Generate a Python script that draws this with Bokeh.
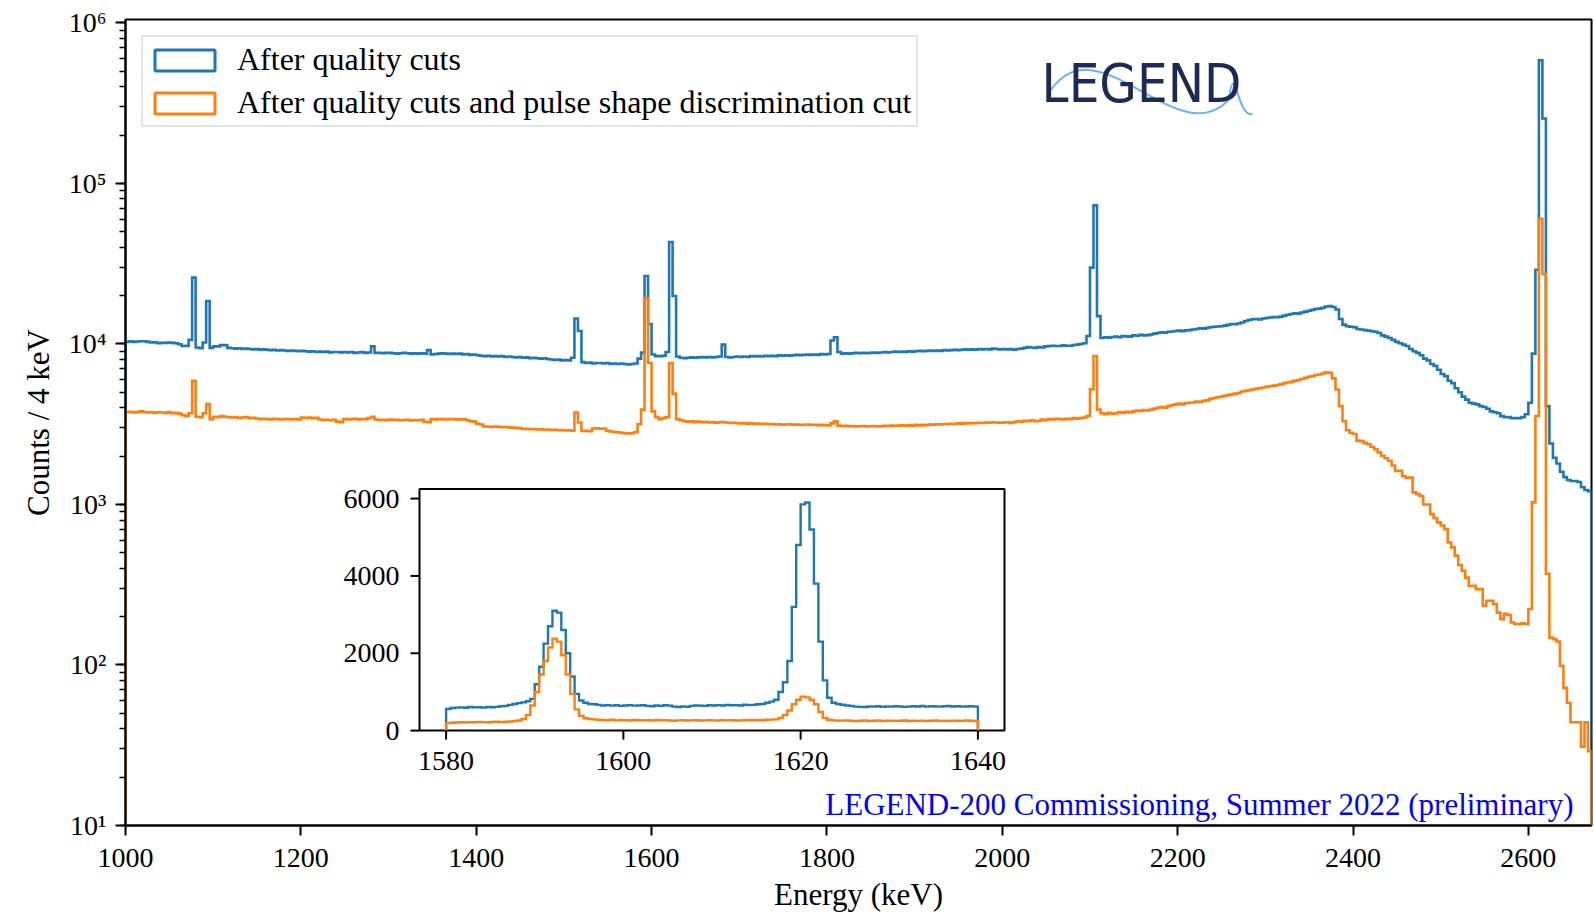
import numpy as np
from bokeh.plotting import figure
from bokeh.models import (Range1d, LinearScale, FixedTicker, LogTicker,
                          CustomJSTickFormatter, Label, Legend, LegendItem)
from bokeh.core.properties import value
from bokeh.embed import file_html
from bokeh.resources import INLINE

# ---------------- data ----------------
energy_start_kev = 1000
bin_width_kev = 4

# counts per 4 keV bin, bins starting at 1000, 1004, ... 2668
counts_quality_cuts = [
    10300, 10400, 10300, 10350, 10400, 10400, 10300, 10200, 10250, 10100,   # 1000
    10150, 10150, 10200, 10150, 10100, 9950, 9700, 9720, 10600, 25900,      # 1040
    9500, 9400, 10200, 18500, 9450, 9650, 9650, 9830, 9830, 9450,           # 1080
    9400, 9350, 9400, 9300, 9350, 9300, 9250, 9300, 9200, 9250,             # 1120
    9200, 9150, 9200, 9100, 9150, 9100, 9050, 9100, 9050, 9000,             # 1160
    9050, 9000, 8950, 9000, 8900, 8950, 8900, 8950, 8850, 8900,             # 1200
    8900, 8850, 8900, 8850, 8900, 8800, 8850, 8900, 8800, 8850,             # 1240
    9650, 8800, 8800, 8750, 8800, 8800, 8750, 8700, 8750, 8800,             # 1280
    8750, 8700, 8750, 8700, 8750, 8700, 9150, 8600, 8650, 8700,             # 1320
    8750, 8700, 8650, 8700, 8650, 8700, 8600, 8650, 8550, 8600,             # 1360
    8500, 8450, 8400, 8450, 8350, 8400, 8350, 8400, 8300, 8350,             # 1400
    8300, 8250, 8300, 8200, 8250, 8150, 8200, 8150, 8100, 8150,             # 1440
    8050, 8000, 7950, 8000, 7900, 7950, 7900, 8200, 14400, 12050,           # 1480
    7700, 7600, 7650, 7550, 7600, 7600, 7550, 7600, 7500, 7550,             # 1520
    7500, 7550, 7500, 7450, 7500, 7550, 8100, 8830, 26500, 13300,           # 1560
    8600, 8400, 8400, 8450, 8900, 43200, 19900, 8350, 8200, 8150,           # 1600
    8200, 8250, 8200, 8250, 8300, 8250, 8300, 8250, 8300, 8350,             # 1640
    9900, 8300, 8250, 8300, 8350, 8300, 8350, 8300, 8400, 8350,             # 1680
    8400, 8350, 8450, 8400, 8450, 8400, 8500, 8450, 8500, 8450,             # 1720
    8500, 8550, 8500, 8550, 8600, 8550, 8600, 8550, 8650, 8600,             # 1760
    8650, 10500, 11000, 8900, 8700, 8750, 8700, 8750, 8800, 8750,           # 1800
    8800, 8750, 8800, 8850, 8800, 8850, 8900, 8850, 8900, 8950,             # 1840
    8900, 8950, 8900, 9000, 8950, 9000, 9050, 9000, 9050, 9100,             # 1880
    9050, 9100, 9050, 9150, 9100, 9150, 9200, 9150, 9200, 9250,             # 1920
    9200, 9250, 9200, 9300, 9250, 9300, 9250, 9350, 9300, 9250,             # 1960
    9300, 9250, 9300, 9200, 9300, 9350, 9450, 9550, 9500, 9450,             # 2000
    9550, 9500, 9650, 9700, 9750, 9700, 9700, 9800, 9750, 9750,             # 2040
    9850, 9900, 10000, 10100, 11200, 29900, 73000, 14900, 10900, 11000,     # 2080
    10950, 11050, 11100, 11000, 11200, 11150, 11100, 11300, 11250, 11400,   # 2120
    11300, 11350, 11450, 11600, 11700, 11800, 11750, 11900, 11950, 12050,   # 2160
    12100, 12000, 12150, 12200, 12300, 12400, 12500, 12450, 12600, 12700,   # 2200
    12800, 12850, 12900, 13000, 13150, 13300, 13250, 13400, 13600, 13900,   # 2240
    14100, 14250, 14300, 14200, 14400, 14500, 14600, 14700, 14650, 14800,   # 2280
    15000, 15200, 15350, 15500, 15450, 15700, 15900, 16100, 16300, 16500,   # 2320
    16600, 16800, 17100, 17200, 17000, 16400, 14300, 13200, 12900, 12800,   # 2360
    12700, 12400, 12300, 12200, 12100, 12000, 11900, 11700, 11300, 11100,   # 2400
    10900, 10600, 10300, 10100, 9900, 9700, 9300, 9000, 8800, 8500,         # 2440
    8100, 7900, 7500, 7300, 6900, 6500, 6300, 5900, 5700, 5300,             # 2480
    5000, 4700, 4500, 4300, 4250, 4200, 4100, 4050, 3950, 3800,             # 2520
    3750, 3700, 3550, 3500, 3500, 3450, 3450, 3450, 3500, 3650,             # 2560
    4300, 8700, 29000, 585000, 254000, 4100, 2400, 1950, 1800, 1600,        # 2600
    1480, 1420, 1400, 1400, 1380, 1280, 1230, 1210,                         # 2640
]

counts_quality_psd = [
    3750, 3780, 3740, 3760, 3800, 3770, 3740, 3760, 3720, 3750,             # 1000
    3740, 3720, 3760, 3700, 3720, 3680, 3600, 3560, 3700, 5890,             # 1040
    3520, 3500, 3700, 4220, 3400, 3520, 3500, 3550, 3520, 3500,             # 1080
    3480, 3500, 3460, 3480, 3500, 3450, 3470, 3430, 3400, 3420,             # 1120
    3400, 3380, 3420, 3400, 3380, 3410, 3400, 3390, 3400, 3380,             # 1160
    3480, 3460, 3480, 3450, 3470, 3380, 3360, 3370, 3350, 3370,             # 1200
    3280, 3260, 3400, 3380, 3400, 3420, 3390, 3410, 3400, 3450,             # 1240
    3520, 3380, 3360, 3370, 3350, 3380, 3360, 3370, 3350, 3360,             # 1280
    3370, 3340, 3360, 3350, 3370, 3270, 3260, 3400, 3390, 3410,             # 1320
    3400, 3380, 3410, 3400, 3390, 3380, 3400, 3350, 3300, 3280,             # 1360
    3180, 3150, 3060, 3050, 3040, 3060, 3050, 3030, 3040, 3020,             # 1400
    3010, 3000, 2990, 2950, 2960, 2940, 2950, 2930, 2940, 2920,             # 1440
    2930, 2910, 2920, 2900, 2910, 2890, 2900, 2880, 3740, 3240,             # 1480
    2870, 2880, 2860, 2970, 2980, 2960, 2970, 2880, 2850, 2830,             # 1520
    2820, 2800, 2780, 2770, 2780, 2820, 3160, 3900, 19300, 7600,            # 1560
    3800, 3500, 3400, 3450, 3500, 7600, 4900, 3400, 3350, 3300,             # 1600
    3280, 3300, 3260, 3280, 3250, 3270, 3240, 3260, 3230, 3250,             # 1640
    3260, 3240, 3220, 3230, 3210, 3200, 3210, 3190, 3200, 3180,             # 1680
    3190, 3170, 3180, 3160, 3170, 3150, 3160, 3140, 3150, 3160,             # 1720
    3140, 3150, 3130, 3140, 3150, 3130, 3140, 3120, 3130, 3120,             # 1760
    3110, 3200, 3300, 3100, 3080, 3090, 3070, 3080, 3060, 3070,             # 1800
    3080, 3060, 3070, 3080, 3060, 3070, 3090, 3080, 3100, 3090,             # 1840
    3100, 3110, 3090, 3120, 3100, 3130, 3110, 3140, 3120, 3150,             # 1880
    3140, 3160, 3150, 3170, 3160, 3180, 3170, 3200, 3190, 3210,             # 1920
    3200, 3220, 3210, 3230, 3220, 3240, 3230, 3250, 3240, 3230,             # 1960
    3240, 3250, 3220, 3260, 3300, 3280, 3320, 3300, 3350, 3300,             # 2000
    3320, 3380, 3350, 3400, 3380, 3420, 3400, 3380, 3420, 3400,             # 2040
    3450, 3420, 3450, 3480, 3560, 5230, 8400, 3900, 3700, 3650,             # 2080
    3720, 3680, 3700, 3760, 3720, 3780, 3740, 3800, 3850, 3820,             # 2120
    3880, 3850, 3900, 3950, 4000, 4050, 4000, 4100, 4150, 4200,             # 2160
    4250, 4200, 4280, 4300, 4320, 4380, 4350, 4420, 4450, 4550,             # 2200
    4600, 4650, 4700, 4750, 4800, 4850, 4900, 4950, 5050, 5100,             # 2240
    5150, 5200, 5250, 5300, 5350, 5400, 5450, 5500, 5550, 5600,             # 2280
    5700, 5750, 5800, 5900, 5950, 6050, 6150, 6250, 6300, 6400,             # 2320
    6450, 6550, 6650, 6600, 6100, 5200, 4100, 3300, 2900, 2800,             # 2360
    2750, 2500, 2480, 2420, 2370, 2290, 2210, 2110, 2010, 1940,             # 2400
    1870, 1750, 1620, 1620, 1500, 1470, 1470, 1190, 1160, 1130,             # 2440
    1000, 1000, 871, 820, 773, 740, 702, 580, 540, 480,                     # 2480
    420, 386, 350, 311, 311, 297, 297, 234, 251, 251,                       # 2520
    240, 212, 193, 208, 205, 184, 180, 180, 182, 180,                       # 2560
    223, 1030, 3560, 60100, 27300, 370, 148, 145, 140, 99,                  # 2600
    72, 58, 44, 44, 44, 31, 44, 29,                                         # 2640
]

# inset: 0.5 keV bins from 1580 to 1640 keV
inset_start_kev = 1580
inset_bin_width_kev = 0.5
inset_quality_cuts = [
    560, 585, 595, 600, 590, 610, 600, 605, 595, 610, 605, 615,
    630, 640, 665, 690,
    710, 730, 760, 820, 1200, 1650, 2250, 2700,
    3100, 3050, 2600, 2000, 1400, 950, 780, 720,
    690, 680,
    665, 650, 660, 645, 655, 640, 650, 660, 645, 650,
    655, 640, 630, 650, 640, 655, 645, 620, 610, 625,
    615, 640, 650, 645, 640, 655, 650, 660, 650, 665,
    655, 660, 650, 670, 660, 665,
    680, 690, 720, 750,
    800, 1000, 1250, 1800, 3200, 4800, 5850, 5900, 5200, 3800, 2300, 1300, 850, 720,
    690, 670,
    650, 640, 620, 615, 610, 625, 620, 630, 615, 625,
    620, 630, 625, 615, 620, 630, 625, 635, 620, 630,
    625, 620, 630, 635, 625, 630, 620, 625, 630, 620,
]
inset_quality_psd = [
    195, 205, 210, 215, 210, 220, 215, 225, 220, 215, 225, 230, 220, 230, 235, 245,
    260, 300, 400, 650, 1000, 1450, 1800, 2150,
    2380, 2300, 1950, 1450, 950, 550, 380, 320,
    300, 290,
    280, 275, 270, 280, 265, 275, 270, 260, 275, 270,
    265, 270, 260, 275, 265, 270, 260, 255, 265, 270,
    260, 265, 270, 260, 265, 270, 265, 260, 270, 265,
    270, 260, 265, 270, 275, 270,
    275, 270, 280, 285,
    290, 330, 400, 520, 680, 800, 880, 860, 800, 680, 480, 330, 280, 265,
    262, 258,
    260, 255, 250, 255, 260, 250, 255, 260, 250, 255,
    258, 252, 255, 260, 250, 255, 252, 258, 250, 255,
    260, 252, 255, 250, 258, 255, 252, 260, 255, 250,
]

x_tick_values = [1000, 1200, 1400, 1600, 1800, 2000, 2200, 2400, 2600]
inset_x_tick_values = [1580, 1600, 1620, 1640]
inset_y_tick_values = [0, 2000, 4000, 6000]

series_labels = ["After quality cuts",
                 "After quality cuts and pulse shape discrimination cut"]
title_text = "Th Source Calibration"
x_label_text = "Energy (keV)"
y_label_text = "Counts / 4 keV"
note_text = "LEGEND-200 Commissioning, Summer 2022 (preliminary)"
logo_text = "LEGEND"

# ---------------- layout / styling ----------------
BLUE = "#1f77b4"
ORANGE = "#ff7f0e"
SERIF = "Liberation Serif"
TICK_FS = "28px"
TEXT_FS = "31px"
X_VIEW_END = 2672            # visible end of the energy axis
Y_VIEW = (10, 1.05e6)

W, H = 1594, 914
B_LEFT, B_RIGHT, B_TOP, B_BOTTOM = 125, 3, 19, 88
FRAME_W = W - B_LEFT - B_RIGHT
FRAME_H = H - B_TOP - B_BOTTOM

# inset placement (canvas pixels) and its data window
INSET_BOX = dict(left=419, right=1004, top=489, bottom=731)
INSET_XLIM = (1577, 1643)
INSET_YLIM = (0, 6250)
INSET_TICK = 9               # px


def step_path(start, width, counts, floor):
    """Outline of a step histogram (matplotlib histtype='step')."""
    counts = np.asarray(counts, dtype=float)
    edges = start + width * np.arange(len(counts) + 1)
    xs = np.repeat(edges, 2)
    ys = np.concatenate([[floor], np.repeat(counts, 2), [floor]])
    return xs, ys


def style_axis(ax, tick_out):
    ax.axis_line_width = 2
    ax.axis_line_color = "black"
    ax.major_tick_line_width = 2
    ax.major_tick_out = tick_out
    ax.major_tick_in = 0
    ax.minor_tick_out = 6
    ax.minor_tick_in = 0
    ax.minor_tick_line_width = 1.5
    ax.major_label_text_font = SERIF
    ax.major_label_text_font_size = TICK_FS
    ax.major_label_text_color = "black"


# ---------------- main figure ----------------
p = figure(width=W, height=H, title=None,
           x_range=Range1d(energy_start_kev, X_VIEW_END),
           y_range=Range1d(*Y_VIEW), y_axis_type="log",
           output_backend="svg", toolbar_location=None,
           min_border_left=B_LEFT, min_border_right=B_RIGHT,
           min_border_top=B_TOP, min_border_bottom=B_BOTTOM)
p.background_fill_color = "white"
p.border_fill_color = "white"
p.outline_line_color = "black"
p.outline_line_width = 2
p.xgrid.visible = False
p.ygrid.visible = False

style_axis(p.xaxis[0], 10)
style_axis(p.yaxis[0], 10)
p.xaxis[0].ticker = FixedTicker(ticks=x_tick_values, minor_ticks=[])
p.xaxis[0].major_label_standoff = 13
p.yaxis[0].ticker = LogTicker(num_minor_ticks=10)
p.yaxis[0].major_label_standoff = 9
p.yaxis[0].formatter = CustomJSTickFormatter(code="""
    const e = Math.round(Math.log10(tick));
    const sup = ['\u2070','\u00b9','\u00b2','\u00b3','\u2074','\u2075','\u2076','\u2077','\u2078','\u2079'];
    let s = '';
    for (const c of String(e)) { s += (c === '-') ? '\u207b' : sup[parseInt(c)]; }
    return '10' + s;
""")
for ax, txt, stand in ((p.xaxis[0], x_label_text, 7), (p.yaxis[0], y_label_text, 10)):
    ax.axis_label = txt
    ax.axis_label_text_font = SERIF
    ax.axis_label_text_font_size = TEXT_FS
    ax.axis_label_text_font_style = "normal"
    ax.axis_label_text_color = "black"
    ax.axis_label_standoff = stand

xq, yq = step_path(energy_start_kev, bin_width_kev, counts_quality_cuts, 1.0)
xp, yp = step_path(energy_start_kev, bin_width_kev, counts_quality_psd, 1.0)
p.line(xq, yq, line_color=BLUE, line_width=2.6, line_join="miter")
p.line(xp, yp, line_color=ORANGE, line_width=2.6, line_join="miter")

# legend entries drawn as outlined patches (like matplotlib step-hist legend);
# a single zero-size quad below the visible range carries each legend glyph
leg_q = p.quad(left=[energy_start_kev], right=[energy_start_kev], top=[1], bottom=[1],
               fill_alpha=0, line_color=BLUE, line_width=3)
leg_p = p.quad(left=[energy_start_kev], right=[energy_start_kev], top=[1], bottom=[1],
               fill_alpha=0, line_color=ORANGE, line_width=3)
legend = Legend(items=[LegendItem(label=series_labels[0], renderers=[leg_q]),
                       LegendItem(label=series_labels[1], renderers=[leg_p])],
                location="top_left")
legend.margin = 16
legend.padding = 4
legend.spacing = 6
legend.glyph_width = 75
legend.glyph_height = 26
legend.label_standoff = 15
legend.label_text_font = SERIF
legend.label_text_font_size = "32px"
legend.label_text_color = "black"
legend.border_line_color = "#cccccc"
legend.border_line_width = 2
legend.background_fill_color = "white"
legend.background_fill_alpha = 0.8
p.add_layout(legend)

# LEGEND logo (text + wave)
p.add_layout(Label(x=1016, y=742, x_units="screen", y_units="screen",
                   text=logo_text, text_font="DejaVu Sans Condensed, Roboto",
                   text_font_size="54px", text_color="#1d2a56",
                   text_align="center", text_baseline="alphabetic"))
p.bezier(x0=[2051.5], y0=[354900], x1=[2258.0], y1=[330400],
         cx0=[2106.3], cy0=[1116800], cx1=[2197.5], cy1=[150200],
         line_color="#6ab4ee", line_width=2)
p.bezier(x0=[2258.0], y0=[330400], x1=[2285.4], y1=[270400],
         cx0=[2266.0], cy0=[629500], cx1=[2267.1], cy1=[255300],
         line_color="#6ab4ee", line_width=2)

# texts inside / above the frame
p.add_layout(Label(x=1448, y=21, x_units="screen", y_units="screen",
                   text=note_text, text_font=SERIF, text_font_size=TEXT_FS,
                   text_color="#0000ff", text_align="right",
                   text_baseline="alphabetic"))
p.add_layout(Label(x=588, y=826, x_units="screen", y_units="screen",
                   text=title_text, text_font=SERIF, text_font_size=TEXT_FS,
                   text_color="black", text_align="left",
                   text_baseline="alphabetic"))

# ---------------- inset (drawn in its own linear ranges) ----------------
kx = (INSET_BOX["right"] - INSET_BOX["left"]) / (INSET_XLIM[1] - INSET_XLIM[0])   # px per keV
ky = (INSET_BOX["bottom"] - INSET_BOX["top"]) / (INSET_YLIM[1] - INSET_YLIM[0])   # px per count
frame_bottom_px = B_TOP + FRAME_H
ix0 = INSET_XLIM[0] - (INSET_BOX["left"] - B_LEFT) / kx
iy0 = INSET_YLIM[0] - (frame_bottom_px - INSET_BOX["bottom"]) / ky
p.extra_x_ranges = {"ix": Range1d(ix0, ix0 + FRAME_W / kx)}
p.extra_y_ranges = {"iy": Range1d(iy0, iy0 + FRAME_H / ky)}
p.extra_x_scales = {"ix": LinearScale()}
p.extra_y_scales = {"iy": LinearScale()}
IN = dict(x_range_name="ix", y_range_name="iy")

p.quad(left=[INSET_XLIM[0]], right=[INSET_XLIM[1]],
       bottom=[INSET_YLIM[0]], top=[INSET_YLIM[1]],
       fill_color="white", line_color="black", line_width=2, **IN)

ixq, iyq = step_path(inset_start_kev, inset_bin_width_kev, inset_quality_cuts, 0.0)
ixp, iyp = step_path(inset_start_kev, inset_bin_width_kev, inset_quality_psd, 0.0)
p.line(ixq, iyq, line_color=BLUE, line_width=2.4, line_join="miter", **IN)
p.line(ixp, iyp, line_color=ORANGE, line_width=2.4, line_join="miter", **IN)

# inset ticks and tick labels
n_xt, n_yt = len(inset_x_tick_values), len(inset_y_tick_values)
p.segment(x0=inset_x_tick_values, x1=inset_x_tick_values,
          y0=[INSET_YLIM[0]] * n_xt, y1=[INSET_YLIM[0] - INSET_TICK / ky] * n_xt,
          line_color="black", line_width=2, **IN)
p.segment(x0=[INSET_XLIM[0]] * n_yt, x1=[INSET_XLIM[0] - INSET_TICK / kx] * n_yt,
          y0=inset_y_tick_values, y1=inset_y_tick_values,
          line_color="black", line_width=2, **IN)
p.text(x=inset_x_tick_values, y=[INSET_YLIM[0] - 30 / ky] * n_xt,
       text=[str(v) for v in inset_x_tick_values],
       text_font=value(SERIF), text_font_size=value(TICK_FS), text_color="black",
       text_align="center", text_baseline="middle", **IN)
p.text(x=[INSET_XLIM[0] - 20 / kx] * n_yt, y=inset_y_tick_values,
       text=[str(v) for v in inset_y_tick_values],
       text_font=value(SERIF), text_font_size=value(TICK_FS), text_color="black",
       text_align="right", text_baseline="middle", **IN)

open("out.html", "w", encoding="utf-8").write(file_html(p, INLINE))
